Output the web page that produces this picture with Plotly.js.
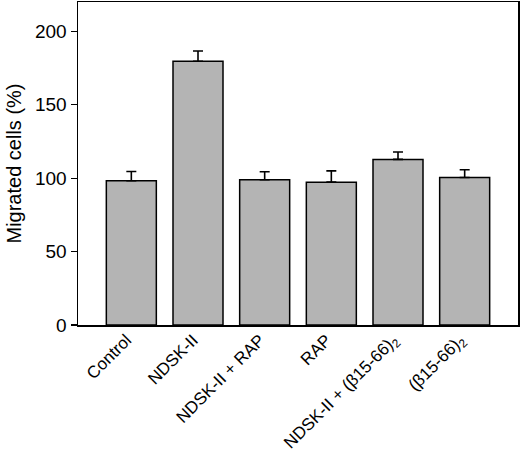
<!DOCTYPE html>
<html>
<head>
<meta charset="utf-8">
<script src="https://cdn.plot.ly/plotly-3.0.1.min.js"></script>
<style>html,body{margin:0;padding:0;background:#fff;}#chart{width:520px;height:460px;}</style>
</head>
<body>
<div id="chart"></div>
<script>
const categories = ["Control", "NDSK-II", "NDSK-II + RAP", "RAP", "NDSK-II + (β15-66)<sub>2</sub>", "(β15-66)<sub>2</sub>"];
const values = [98.2, 179.6, 98.9, 97.3, 112.8, 100.5];
const errors = [6.4, 7.0, 5.5, 7.7, 5.0, 5.2];
const yTicks = [0, 50, 100, 150, 200];

const font = "Arial, 'Liberation Sans', sans-serif";
const xIdx = categories.map((c, i) => i);

Plotly.newPlot("chart", [{
  type: "bar",
  x: xIdx,
  y: values,
  width: 0.75,
  marker: {color: "#b4b4b4", line: {color: "#000", width: 1.5}},
  error_y: {type: "data", array: errors, arrayminus: errors.map(() => 0), symmetric: false,
            color: "#000", thickness: 1.6, width: 5},
  hoverinfo: "none"
}], {
  width: 520, height: 460,
  margin: {l: 78, r: 2, t: 2, b: 135},
  paper_bgcolor: "#fff", plot_bgcolor: "#fff",
  showlegend: false,
  font: {family: font, color: "#000"},
  xaxis: {
    range: [-0.8, 5.8],
    tickmode: "array", tickvals: xIdx, ticktext: categories,
    tickangle: -45, ticks: "", tickfont: {size: 17, family: font},
    ticklabelshift: -5, ticklabelstandoff: -3,
    showline: true, linecolor: "#000", linewidth: 1.5, mirror: true,
    showgrid: false, zeroline: false
  },
  yaxis: {
    range: [0, 220],
    tickmode: "array", tickvals: yTicks,
    ticks: "outside", ticklen: 6, tickwidth: 1.2, tickcolor: "#000",
    tickfont: {size: 19, family: font},
    showline: true, linecolor: "#000", linewidth: 1.5, mirror: true,
    showgrid: false, zeroline: false,
    title: {text: "Migrated cells (%)", font: {size: 20, family: font}, standoff: 8}
  }
}, {staticPlot: true});
</script>
</body>
</html>
